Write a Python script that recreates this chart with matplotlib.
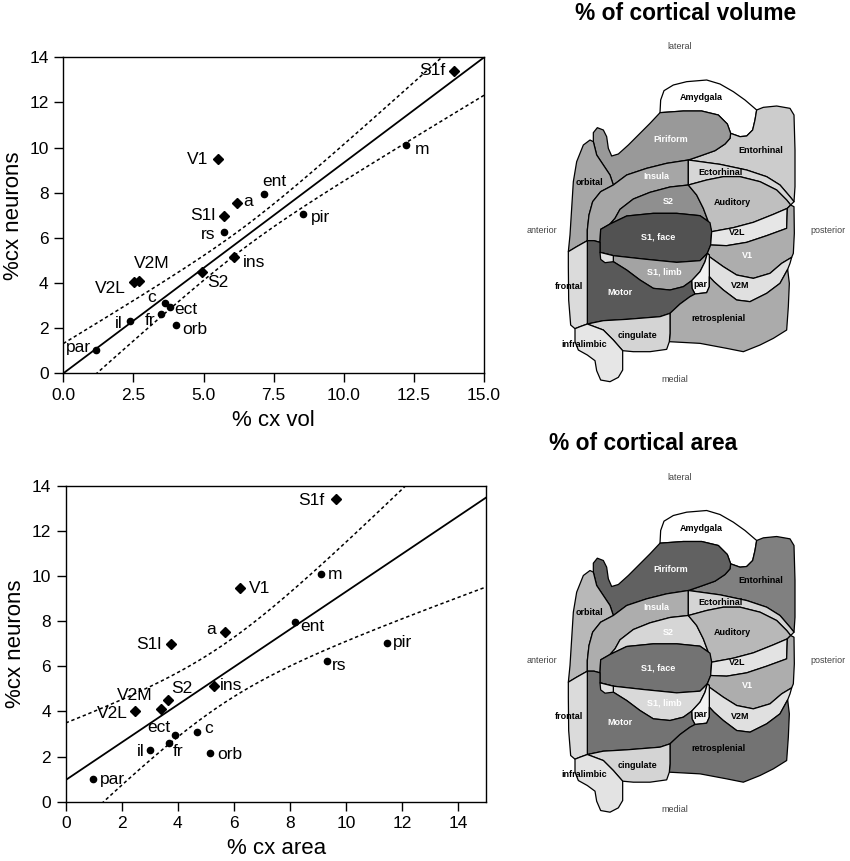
import numpy as np
import matplotlib.pyplot as plt
from matplotlib.patches import Polygon

plt.rcParams['font.family'] = ['Liberation Sans', 'DejaVu Sans']

# cortical areas, % of cortex (volume / area) vs % of cortical neurons
areas = ['S1f', 'V1', 'm', 'ent', 'a', 'S1l', 'pir', 'rs', 'ins',
         'S2', 'V2M', 'V2L', 'c', 'ect', 'fr', 'il', 'orb', 'par']
pct_vol = [13.91, 5.50, 12.22, 7.17, 6.19, 5.74, 8.53, 5.74, 6.07,
           4.94, 2.70, 2.51, 3.61, 3.82, 3.47, 2.38, 4.02, 1.15]
pct_area = [9.62, 6.22, 9.09, 8.16, 5.68, 3.75, 11.45, 9.31, 5.27,
            3.65, 3.41, 2.46, 4.67, 3.91, 3.67, 3.02, 5.14, 0.99]
pct_neurons = [13.41, 9.49, 10.11, 7.95, 7.53, 6.98, 7.04, 6.26, 5.14,
               4.51, 4.10, 4.03, 3.11, 2.94, 2.61, 2.30, 2.16, 1.02]
sensory = ['S1f', 'V1', 'a', 'S1l', 'ins', 'S2', 'V2M', 'V2L']

# regression line and confidence band
vol_fit = dict(b0=0.0, b1=14 / 15, xc=6.5, a=0.22, b=0.036)
area_fit = dict(b0=0.96, b1=0.836, xc=5.5, a=1.69, b=0.156)

# label offsets in pixels (dx, dy, ha)
vol_lab = {'S1f': (-8, 0, 'right'), 'V1': (-9, 0, 'right'), 'm': (9, -4, 'left'),
           'ent': (10, 12, 'center'), 'a': (6, 2, 'left'), 'S1l': (-9, 0, 'right'),
           'pir': (8, -3, 'left'), 'rs': (-9, -2, 'right'), 'ins': (9, -5, 'left'),
           'S2': (5, -11, 'left'), 'V2M': (13, 17, 'center'), 'V2L': (-8, -6, 'right'),
           'c': (-9, 6, 'right'), 'ect': (4, -3, 'left'), 'fr': (-5, -6, 'right'),
           'il': (-7, -2, 'right'), 'orb': (6, -5, 'left'), 'par': (-5, 3, 'right')}
area_lab = {'S1f': (-11, -1, 'right'), 'V1': (9, -1, 'left'), 'm': (7, -1, 'left'),
            'ent': (6, -4, 'left'), 'a': (-9, 2, 'right'), 'S1l': (-9, 0, 'right'),
            'pir': (6, 0, 'left'), 'rs': (5, -5, 'left'), 'ins': (6, 0, 'left'),
            'S2': (3, 11, 'left'), 'V2M': (-9, 14, 'right'), 'V2L': (-7, -3, 'right'),
            'c': (8, 3, 'left'), 'ect': (-5, 8, 'right'), 'fr': (4, -9, 'left'),
            'il': (-6, -2, 'right'), 'orb': (7, -2, 'left'), 'par': (6, -1, 'left')}

# brain map regions (outline in map pixel units), grey level for volume / area map
map_regions = {
    'Amydgala': [(450, 338), (452, 300), (462, 272), (490, 255), (530, 245), (590, 240), (630, 252),
                 (670, 275), (705, 300), (740, 330), (735, 360), (728, 390), (710, 408), (690, 410),
                 (662, 400), (652, 372), (625, 345), (575, 333), (520, 333)],
    'Entorhinal': [(662, 400), (690, 410), (710, 408), (728, 390), (735, 360), (740, 330), (760, 322),
                   (800, 318), (840, 325), (852, 345), (855, 450), (855, 560), (852, 605), (840, 590),
                   (810, 555), (770, 530), (710, 510), (630, 493), (535, 480), (570, 468), (615, 452),
                   (645, 432), (660, 415)],
    'Piriform': [(662, 400), (652, 372), (625, 345), (575, 333), (520, 333), (450, 338), (420, 370),
                 (390, 400), (355, 435), (325, 462), (305, 468), (295, 445), (290, 410), (280, 390),
                 (262, 383), (250, 398), (250, 425), (260, 465), (280, 495), (300, 525), (310, 555),
                 (350, 525), (410, 505), (470, 490), (535, 480), (570, 468), (615, 452), (645, 432),
                 (660, 415)],
    'orbital': [(175, 755), (180, 705), (185, 625), (190, 545), (200, 485), (220, 435), (240, 420),
                (250, 425), (260, 465), (280, 495), (300, 525), (310, 555), (272, 575), (248, 605),
                (237, 645), (232, 690), (232, 722), (200, 740)],
    'Insula': [(310, 555), (350, 525), (410, 505), (470, 490), (535, 480), (535, 555), (480, 561),
               (420, 577), (370, 597), (330, 628), (315, 655), (300, 672), (272, 688), (270, 727),
               (252, 722), (232, 722), (232, 690), (237, 645), (248, 605), (272, 575)],
    'Ectorhinal': [(535, 480), (630, 493), (710, 510), (770, 530), (810, 555), (840, 590), (852, 605),
                   (842, 615), (830, 600), (800, 570), (750, 545), (690, 530), (640, 530), (590, 540),
                   (535, 555)],
    'S2': [(300, 672), (315, 655), (330, 628), (370, 597), (420, 577), (480, 561), (535, 555),
           (560, 585), (580, 625), (595, 665), (605, 695), (600, 668), (570, 647), (500, 640),
           (430, 640), (350, 648)],
    'Auditory': [(535, 555), (590, 540), (640, 530), (690, 530), (750, 545), (800, 570), (830, 600),
                 (842, 615), (832, 625), (790, 643), (730, 667), (670, 683), (605, 695), (595, 665),
                 (580, 625), (560, 585)],
    'S1, face': [(272, 688), (300, 672), (350, 648), (430, 640), (500, 640), (570, 647), (600, 668),
                 (605, 695), (602, 735), (592, 760), (570, 782), (500, 787), (400, 777), (310, 767),
                 (270, 757), (270, 727)],
    'V2L': [(605, 695), (670, 683), (730, 667), (790, 643), (832, 625), (830, 685), (770, 707),
            (710, 727), (650, 737), (602, 735)],
    'V1': [(602, 735), (650, 737), (710, 727), (770, 707), (830, 685), (832, 625), (842, 615),
           (852, 620), (853, 700), (850, 760), (845, 772), (815, 790), (780, 820), (730, 835),
           (680, 825), (640, 800), (598, 770), (598, 765), (592, 760)],
    'V2M': [(598, 770), (640, 800), (680, 825), (730, 835), (780, 820), (815, 790), (845, 772),
            (840, 790), (833, 808), (810, 850), (770, 880), (720, 905), (680, 900), (640, 870),
            (612, 845), (598, 830)],
    'S1, limb': [(592, 760), (570, 782), (500, 787), (400, 777), (310, 767), (310, 785), (350, 810),
                 (390, 840), (430, 865), (480, 870), (520, 860), (545, 842), (570, 815), (585, 785)],
    'par': [(592, 760), (598, 765), (598, 830), (598, 860), (590, 878), (555, 882), (546, 865),
            (545, 842), (570, 815), (585, 785)],
    'Motor': [(232, 722), (252, 722), (270, 727), (270, 757), (310, 767), (310, 785), (350, 810),
              (390, 840), (430, 865), (480, 870), (520, 860), (545, 842), (546, 865), (555, 882),
              (540, 890), (510, 912), (480, 940), (450, 950), (350, 958), (280, 962), (232, 972)],
    'wedge': [(270, 757), (310, 767), (310, 785), (285, 788), (272, 778)],
    'frontal': [(175, 755), (200, 740), (232, 722), (232, 972), (210, 980), (195, 986), (182, 975),
                (176, 900), (175, 800)],
    'retrosplenial': [(480, 940), (510, 912), (540, 890), (555, 882), (590, 878), (598, 860),
                      (598, 830), (612, 845), (640, 870), (680, 900), (720, 905), (770, 880),
                      (810, 850), (833, 808), (838, 850), (835, 920), (830, 990), (790, 1015),
                      (750, 1035), (700, 1055), (650, 1045), (570, 1030), (478, 1025), (480, 1000)],
    'cingulate': [(232, 972), (280, 962), (350, 958), (450, 950), (480, 940), (480, 1000), (478, 1025),
                  (470, 1048), (420, 1055), (370, 1055), (338, 1052), (310, 1020), (280, 990)],
    'infralimbic': [(195, 986), (210, 980), (232, 972), (280, 990), (310, 1020), (338, 1052),
                    (338, 1110), (325, 1132), (300, 1145), (272, 1140), (260, 1112), (255, 1082),
                    (232, 1065), (205, 1050), (195, 1025)],
}
vol_grey = {'Amydgala': 1.0, 'Entorhinal': 0.80, 'Piriform': 0.60, 'orbital': 0.65, 'Insula': 0.65,
            'Ectorhinal': 0.84, 'S2': 0.56, 'Auditory': 0.75, 'S1, face': 0.32, 'V2L': 0.90,
            'V1': 0.68, 'V2M': 0.88, 'S1, limb': 0.64, 'par': 0.95, 'Motor': 0.35, 'wedge': 0.88,
            'frontal': 0.86, 'retrosplenial': 0.67, 'cingulate': 0.83, 'infralimbic': 0.90}
area_grey = {'Amydgala': 1.0, 'Entorhinal': 0.50, 'Piriform': 0.38, 'orbital': 0.72, 'Insula': 0.68,
             'Ectorhinal': 0.83, 'S2': 0.84, 'Auditory': 0.72, 'S1, face': 0.45, 'V2L': 0.89,
             'V1': 0.68, 'V2M': 0.88, 'S1, limb': 0.85, 'par': 0.95, 'Motor': 0.45, 'wedge': 0.88,
             'frontal': 0.86, 'retrosplenial': 0.45, 'cingulate': 0.83, 'infralimbic': 0.89}
map_labels = {'Amydgala': (575, 293), 'Piriform': (483, 418), 'Entorhinal': (752, 450),
              'orbital': (238, 547), 'Insula': (440, 530), 'Ectorhinal': (632, 517),
              'S2': (475, 605), 'Auditory': (668, 607), 'S1, face': (443, 712), 'V2L': (683, 697),
              'V1': (712, 765), 'S1, limb': (463, 817), 'par': (572, 852), 'frontal': (178, 858),
              'Motor': (330, 877), 'V2M': (690, 857), 'retrosplenial': (625, 955),
              'cingulate': (383, 1005), 'infralimbic': (222, 1032)}
white_labels = ['Piriform', 'Insula', 'S2', 'S1, face', 'V1', 'S1, limb', 'Motor']
directions = {'lateral': (510, 140), 'anterior': (95, 690), 'posterior': (953, 690), 'medial': (495, 1137)}


def scatter_panel(ax, xvals, fit, labels, xticks, xfmt, xlabel):
    xs = np.linspace(0, 15, 200)
    line = fit['b0'] + fit['b1'] * xs
    half = np.sqrt(fit['a'] + fit['b'] * (xs - fit['xc']) ** 2)
    ax.plot(xs, line, color='black', lw=1.3)
    ax.plot(xs, line + half, color='black', lw=1.1, ls=(0, (2.2, 1.8)))
    ax.plot(xs, line - half, color='black', lw=1.1, ls=(0, (2.2, 1.8)))
    for name, x, y in zip(areas, xvals, pct_neurons):
        if name in sensory:
            ax.plot(x, y, marker='D', ms=5.5, color='black', zorder=3)
        else:
            ax.plot(x, y, marker='o', ms=4.5, color='black', zorder=3)
        dx, dy, ha = labels[name]
        ax.annotate(name, (x, y), xytext=(dx, dy), textcoords='offset pixels',
                    ha=ha, va='center', fontsize=12.5)
    ax.set_xlim(0, 15)
    ax.set_ylim(0, 14)
    ax.set_xticks(xticks)
    ax.set_xticklabels([xfmt % t for t in xticks])
    ax.set_yticks(range(0, 15, 2))
    ax.tick_params(direction='out', length=6.5, width=1, pad=4, labelsize=12.5)
    for s in ax.spines.values():
        s.set_linewidth(1)
    ax.set_xlabel(xlabel, fontsize=16, labelpad=5)
    ax.set_ylabel('%cx neurons', fontsize=16, labelpad=4)


def brain_map(ax, greys, title, title_xy):
    for name, pts in map_regions.items():
        g = greys[name]
        ax.add_patch(Polygon(pts, closed=True, facecolor=(g, g, g),
                             edgecolor='black', lw=0.9, joinstyle='round'))
    for name, (x, y) in map_labels.items():
        col = 'white' if name in white_labels else 'black'
        ax.text(x, y, name, ha='center', va='center', fontsize=6.5,
                weight='bold', color=col)
    for name, (x, y) in directions.items():
        ax.text(x, y, name, ha='center', va='center', fontsize=6.5, color='#444444')
    ax.text(title_xy[0], title_xy[1], title, ha='center', va='center',
            fontsize=16.4, weight='bold')
    ax.set_xlim(0, 1020)
    ax.set_ylim(1200, 0)
    ax.axis('off')


fig = plt.figure(figsize=(8.5, 8.61), dpi=100)

ax1 = fig.add_axes([0.0745, 0.5664, 0.495, 0.367])
scatter_panel(ax1, pct_vol, vol_fit, vol_lab, np.arange(0, 15.1, 2.5), '%.1f', '% cx vol')

ax2 = fig.add_axes([0.0773, 0.0689, 0.495, 0.3666])
scatter_panel(ax2, pct_area, area_fit, area_lab, list(range(0, 15, 2)), '%d', '% cx area')

ax3 = fig.add_axes([0.6, 0.5354, 0.4, 0.4646])
brain_map(ax3, vol_grey, '% of cortical volume', (527, 40))

ax4 = fig.add_axes([0.6, 0.0354, 0.4, 0.4646])
brain_map(ax4, area_grey, '% of cortical area', (399, 38))

fig.savefig('out.png', dpi=100)
